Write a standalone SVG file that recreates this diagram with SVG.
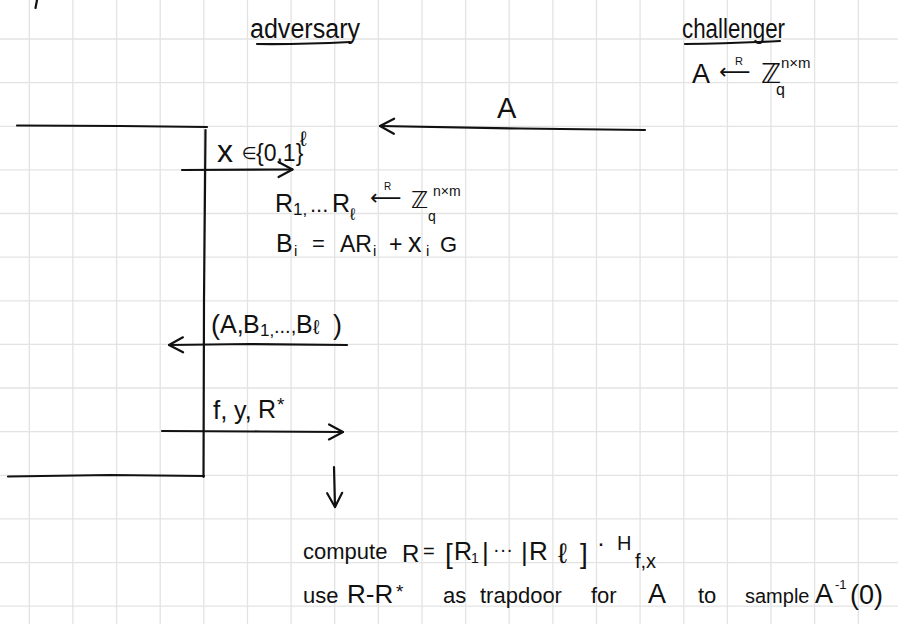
<svg xmlns="http://www.w3.org/2000/svg" width="898" height="624" viewBox="0 0 898 624" font-size="26">
<defs>
<marker id="vh" viewBox="-18 -10 20 20" markerWidth="20" markerHeight="20" refX="0" refY="0" orient="auto" markerUnits="userSpaceOnUse">
<path d="M-14 -7.5 L0 0 L-14 7.5" fill="none" stroke="#111" stroke-width="2.2" stroke-linecap="round" stroke-linejoin="round"/>
</marker>
<style>
.grid{stroke:#e3e3e3;stroke-width:1.3;fill:none}
.ink{stroke:#111;stroke-width:2.2;fill:none;stroke-linecap:round;stroke-linejoin:round}
.arr{stroke:#111;stroke-width:2.2;fill:none;stroke-linecap:round;marker-end:url(#vh)}
text{font-family:"Liberation Sans","DejaVu Sans",sans-serif;fill:#111}
.dv{font-family:"DejaVu Sans",sans-serif}
</style>
</defs>
<rect width="898" height="624" fill="#fff"/>
<path class="grid" d="M29.3 0V624M72.9 0V624M116.6 0V624M160.2 0V624M203.8 0V624M247.5 0V624M291.1 0V624M334.7 0V624M378.3 0V624M422 0V624M465.6 0V624M509.2 0V624M552.9 0V624M596.5 0V624M640.1 0V624M683.8 0V624M727.4 0V624M771 0V624M814.6 0V624M858.3 0V624M0 39H898M0 82.6H898M0 126.3H898M0 169.9H898M0 213.5H898M0 257.2H898M0 300.8H898M0 344.4H898M0 388H898M0 431.7H898M0 475.3H898M0 518.9H898M0 562.6H898M0 606.2H898"/>
<path class="ink" d="M37 0 L35.5 8"/>

<g id="adversary">
<text x="250" y="38" font-size="27" textLength="110" lengthAdjust="spacingAndGlyphs">adversary</text>
<path class="ink" d="M257 44 Q300 44.5 350 42"/>
<path class="ink" d="M17 125.5 L120 126 L207 127"/>
<path class="ink" d="M205.5 130 L204 300 L203.5 477"/>
<path class="ink" d="M8 476.5 L110 475 L204 476"/>
</g>

<g id="challenger">
<text x="682" y="38" font-size="27" textLength="103" lengthAdjust="spacingAndGlyphs">challenger</text>
<path class="ink" d="M685 44 Q730 43.5 780 41"/>
<text><tspan x="692" y="83" font-size="27">A</tspan><tspan x="735" y="65" font-size="11">R</tspan><tspan class="dv" x="719" y="79" font-size="22">⟵</tspan><tspan class="dv" x="761" y="83" font-size="27">ℤ</tspan><tspan x="776" y="95" font-size="16">q</tspan><tspan x="781" y="68" font-size="15">n×m</tspan></text>
</g>

<g id="challenger-keys">
<text><tspan x="275" y="212" font-size="25">R</tspan><tspan x="293" y="215" font-size="17">1,</tspan><tspan x="310" y="212" font-size="22">...</tspan><tspan x="332" y="212" font-size="25">R</tspan><tspan x="350" y="220" font-size="17">ℓ</tspan><tspan x="384" y="190" font-size="10">R</tspan><tspan class="dv" x="370" y="205" font-size="22">⟵</tspan><tspan class="dv" x="411" y="208" font-size="23">ℤ</tspan><tspan x="428" y="221" font-size="14">q</tspan><tspan x="433" y="196" font-size="14">n×m</tspan></text>
<text><tspan x="276" y="252" font-size="25">B</tspan><tspan x="294" y="256" font-size="15">i</tspan><tspan x="312" y="251" font-size="22">=</tspan><tspan x="340" y="252" font-size="23">AR</tspan><tspan x="373" y="256" font-size="15">i</tspan><tspan x="389" y="252" font-size="23">+</tspan><tspan x="408" y="252" font-size="27">x</tspan><tspan x="426" y="256" font-size="15">i</tspan><tspan x="440" y="252" font-size="22">G</tspan></text>
</g>

<g id="connectors">
<path class="arr" d="M645 130 L520 128.5 L380 126"/>
<path class="arr" d="M182 170 L292.5 169.5"/>
<path class="arr" d="M347 345 L250 344 L169 345"/>
<path class="arr" d="M162 431 L260 431.5 L343 432"/>
<path class="arr" d="M334 467 L335 507"/>
</g>

<g id="msg-A">
<text x="497" y="118" font-size="29">A</text>
</g>

<g id="msg-x">
<text><tspan x="217" y="162" font-size="32">x</tspan><tspan x="242" y="159" font-size="17">∈</tspan><tspan x="256" y="161" font-size="23">{0,1}</tspan><tspan x="300" y="146" font-size="21">ℓ</tspan></text>
</g>

<g id="msg-AB">
<text><tspan x="211" y="334" font-size="27">(</tspan><tspan x="220" y="333" font-size="25">A,</tspan><tspan x="243" y="333" font-size="25">B</tspan><tspan x="260" y="336" font-size="17">1,</tspan><tspan x="274" y="333" font-size="20">...,</tspan><tspan x="296" y="333" font-size="25">B</tspan><tspan x="313" y="334" font-size="20">ℓ</tspan><tspan x="333" y="334" font-size="27">)</tspan></text>
</g>

<g id="msg-fyR">
<text><tspan x="213" y="419" font-size="26">f,</tspan><tspan x="234" y="419" font-size="25">y,</tspan><tspan x="258" y="418" font-size="25">R</tspan><tspan x="277" y="411" font-size="19">*</tspan></text>
</g>

<g id="final">
<text><tspan x="303" y="559" font-size="22">compute</tspan><tspan x="402" y="562" font-size="24">R</tspan><tspan x="423" y="558" font-size="20">=</tspan><tspan x="445" y="563" font-size="28">[</tspan><tspan x="454" y="560" font-size="25">R</tspan><tspan x="471" y="563" font-size="14">1</tspan><tspan x="482" y="561" font-size="26">|</tspan><tspan x="493" y="556" font-size="20">···</tspan><tspan x="521" y="561" font-size="26">|</tspan><tspan x="529" y="560" font-size="26">R</tspan><tspan x="558" y="563" font-size="28">ℓ</tspan><tspan x="580" y="563" font-size="28">]</tspan><tspan x="597" y="551" font-size="24">·</tspan><tspan x="617" y="550" font-size="20">H</tspan><tspan x="635" y="568" font-size="20">f,x</tspan></text>
<text><tspan x="303" y="603" font-size="22">use</tspan><tspan x="347" y="603" font-size="26">R-R</tspan><tspan x="396" y="598" font-size="19">*</tspan><tspan x="443" y="603" font-size="22">as</tspan><tspan x="480" y="603" font-size="22">trapdoor</tspan><tspan x="591" y="603" font-size="22">for</tspan><tspan x="648" y="603" font-size="27">A</tspan><tspan x="698" y="603" font-size="22">to</tspan><tspan x="745" y="603" font-size="20">sample</tspan><tspan x="815" y="603" font-size="27">A</tspan><tspan x="835" y="589" font-size="13">-1</tspan><tspan x="850" y="604" font-size="27">(0)</tspan></text>
</g>
</svg>
